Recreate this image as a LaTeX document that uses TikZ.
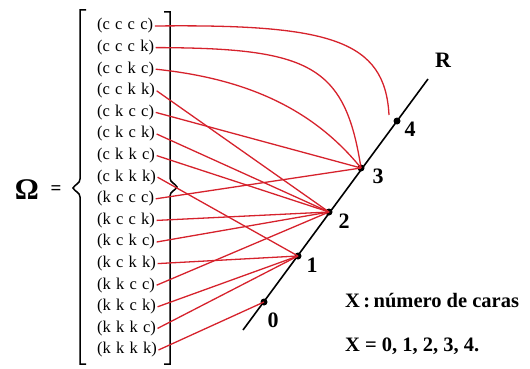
\documentclass[tikz,border=0pt]{standalone}
\usepackage{fontspec}
\setmainfont{Liberation Serif}
\definecolor{lred}{RGB}{214,34,44}
\newcommand\tup[4]{(#1\hskip 5.2pt#2\hskip 5.2pt#3\hskip 5.2pt#4)}
\begin{document}
\begin{tikzpicture}[x=1pt,y=-1pt,
  tupnode/.style={inner sep=0pt,font=\fontsize{16.5}{18}\selectfont},
  con/.style={lred,line width=1.3pt},
  dotnode/.style={circle,fill=black,inner sep=0pt,minimum size=7pt},
  numlab/.style={font=\fontsize{22}{24}\selectfont\bfseries,inner sep=0pt},
  txtlab/.style={font=\fontsize{20.5}{23}\selectfont\bfseries,inner sep=0pt},
  brk/.style={black,line width=1.5pt}]
\useasboundingbox (0,0) rectangle (530,369);
% tuples
\foreach \n/\a/\b/\c/\d [count=\i from 0] in {1/c/c/c/c,2/c/c/c/k,3/c/c/k/c,4/c/c/k/k,5/c/k/c/c,6/c/k/c/k,7/c/k/k/c,8/c/k/k/k,9/k/c/c/c,10/k/c/c/k,11/k/c/k/c,12/k/c/k/k,13/k/k/c/c,14/k/k/c/k,15/k/k/k/c,16/k/k/k/k}
  \node[tupnode,anchor=west] (t\n) at (97,{26+21.6*\i}) {\tup{\a}{\b}{\c}{\d}};
% brackets
\draw[brk] (86,10) -- (80,10) -- (80,179) to[out=-90,in=60] (73,188) to[out=-60,in=90] (80,197) -- (80,364) -- (86,364);
\draw[brk] (164,12) -- (170,12) -- (170,178) to[out=-90,in=120] (177,187) to[out=-120,in=90] (170,196) -- (170,364) -- (164,364);
\node[font=\fontsize{30}{32}\selectfont\bfseries,inner sep=0pt] (om) at (27,190) {Ω};
\node[font=\fontsize{19}{21}\selectfont\bfseries,inner sep=0pt] (eq) at (56,190) {=};
% real line
\coordinate (ra) at (243,330);
\coordinate (rb) at (428,79);
\draw[black,line width=1.6pt] (ra) -- (rb);
\node[dotnode] (p0) at (264,302) {};
\node[dotnode] (p1) at (298,256) {};
\node[dotnode] (p2) at (329,212) {};
\node[dotnode] (p3) at (361,168) {};
\node[dotnode] (p4) at (397,121) {};
\node[numlab] (l0) at (273,320) {0};
\node[numlab] (l1) at (312,265) {1};
\node[numlab] (l2) at (344,221) {2};
\node[numlab] (l3) at (378,176) {3};
\node[numlab] (l4) at (410,129) {4};
\node[numlab] (lr) at (443,60) {R};
\node[txtlab,anchor=west] (tx) at (345,301) {X\,:\,número de caras};
\node[txtlab,anchor=west] (tv) at (345,346) {X = 0, 1, 2, 3, 4.};
% connectors
\coordinate (e4) at (389,115);
\draw[con] ([xshift=1.5pt]t1.east) .. controls (330,24) and (385,40) .. (e4);
\draw[con] ([xshift=1.5pt]t2.east) .. controls (310,48) and (345,65) .. (p3.center);
\draw[con] ([xshift=1.5pt]t3.east) .. controls (240,78) and (310,105) .. (p3.center);
\foreach \s/\e in {4/2,5/3,6/2,7/2,8/1,9/3,10/2,11/2,12/1,13/2,14/1,15/1,16/0}
  \draw[con] ([xshift=1.5pt]t\s.east) -- (p\e.center);
\end{tikzpicture}
\end{document}
